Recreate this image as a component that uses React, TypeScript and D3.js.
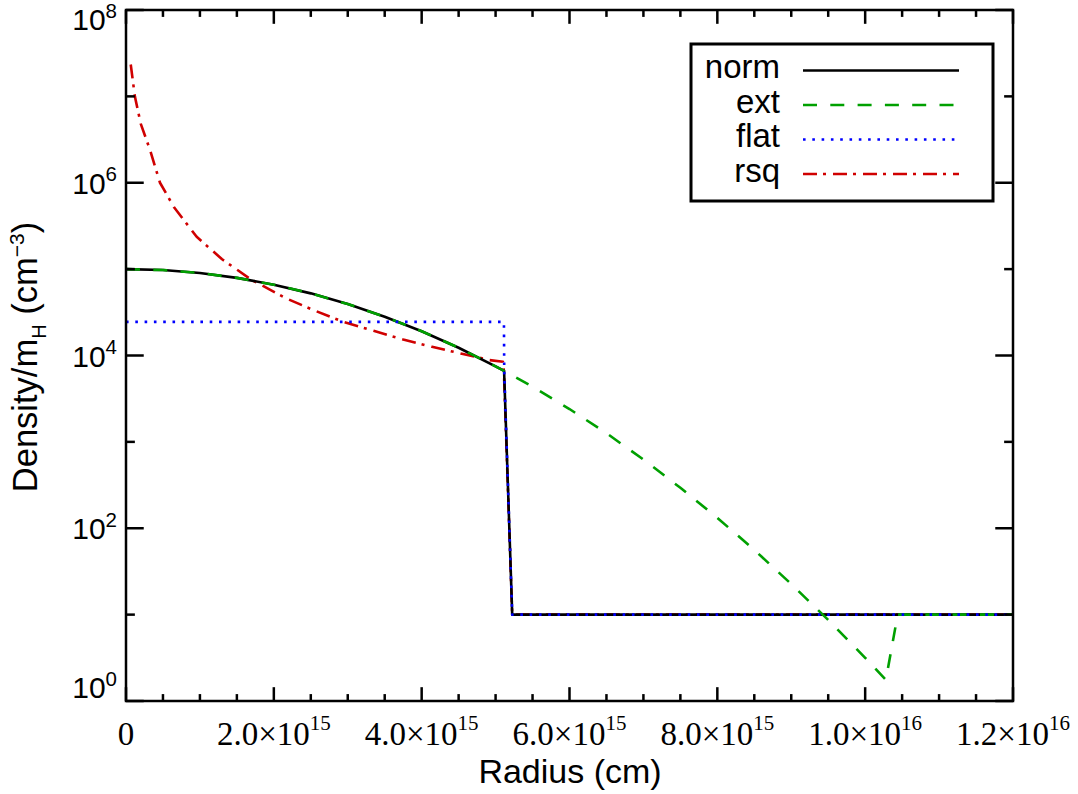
import React from 'react'
import * as d3 from 'd3'

// radius in units of 1e15 cm, density/m_H in cm^-3
const RADIUS_UNIT = 1e15

const normRadius = [0, 0.5, 1.0, 1.5, 2.0, 2.5, 3.0, 3.5, 4.0, 4.5, 5.0, 5.115, 5.225, 12.0]
const normDensity = [1.0e5, 9.75e4, 9.02e4, 7.92e4, 6.61e4, 5.24e4, 3.94e4, 2.81e4, 1.91e4, 1.23e4, 7.5e3, 6.65e3, 10, 10]

const extRadius = [0, 0.5, 1.0, 1.5, 2.0, 2.5, 3.0, 3.5, 4.0, 4.5, 5.0, 5.115, 5.5, 6.0, 6.5, 7.0, 7.5, 8.0, 8.5, 9.0, 9.5, 10.0, 10.28, 10.44, 12.0]
const extDensity = [1.0e5, 9.75e4, 9.02e4, 7.92e4, 6.61e4, 5.24e4, 3.94e4, 2.81e4, 1.91e4, 1.23e4, 7.5e3, 6.65e3, 4.35e3, 2.4e3, 1.26e3, 624, 294, 132, 56.1, 22.6, 8.69, 3.16, 1.76, 10, 10]

const flatRadius = [0, 5.113, 5.117, 5.225, 12.0]
const flatDensity = [2.45e4, 2.45e4, 6.6e3, 10, 10]

const rsqRadius = [0.064, 0.12, 0.2, 0.325, 0.46, 0.65, 0.956, 1.3, 1.7, 2.17, 2.56, 2.94, 3.35, 3.75, 4.14, 4.56, 4.92, 5.10, 5.112, 5.225, 12.0]
const rsqDensity = [2.34e7, 1.0e7, 4.8e6, 2.4e6, 1.0e6, 5.2e5, 2.37e5, 1.3e5, 7.5e4, 4.57e4, 3.29e4, 2.45e4, 1.93e4, 1.53e4, 1.26e4, 1.04e4, 8.85e3, 8.45e3, 6.7e3, 10, 10]

const xMajorTicks = [0, 2e15, 4e15, 6e15, 8e15, 1e16, 1.2e16]
const xTickMantissa = ['0', '2.0', '4.0', '6.0', '8.0', '1.0', '1.2']
const xTickExponent = ['', '15', '15', '15', '15', '16', '16']
const yMajorTicks = [1, 1e2, 1e4, 1e6, 1e8]
const yTickExponent = ['0', '2', '4', '6', '8']
const yMinorTicks = [10, 1e3, 1e5, 1e7]

const legendNames = ['norm', 'ext', 'flat', 'rsq']

const series = [
  { name: 'rsq', r: rsqRadius, n: rsqDensity, color: '#d00000', dash: '14 6 3 7' },
  { name: 'norm', r: normRadius, n: normDensity, color: '#000000', dash: null },
  { name: 'ext', r: extRadius, n: extDensity, color: '#00a000', dash: '14 13.3' },
  { name: 'flat', r: flatRadius, n: flatDensity, color: '#0000ff', dash: '2.6 6.7' },
]

const SANS = '"Liberation Sans", Arial, Helvetica, sans-serif'
const SERIF = '"Liberation Serif", "Times New Roman", serif'

export default function App() {
  const width = 1078
  const height = 794
  const left = 126, right = 1013, top = 10, bottom = 701

  const x = d3.scaleLinear().domain([0, 1.2e16]).range([left, right])
  const y = d3.scaleLog().domain([1, 1e8]).range([bottom, top])
  const xMinor = x.ticks(24).filter(t => !xMajorTicks.includes(t))

  const line = d3.line<[number, number]>()
    .x(d => x(d[0] * RADIUS_UNIT))
    .y(d => y(d[1]))

  const xTickLen = 0.02 * (bottom - top)
  const yTickLen = 0.02 * (right - left)
  const axisStroke = { stroke: '#000', strokeWidth: 2.5 }

  // end labels are pulled inside the frame like the original plot
  const yLabelBase = (t: number) => {
    const p = y(t)
    if (p - 11 < top) return top + 20
    if (p + 11 > bottom) return bottom - 3
    return p + 11
  }

  const legendX = 691, legendY = 44
  const rowH = 34.5

  return <svg width={width} height={height}
              style={{ position: 'absolute', left: 0, top: 0, background: '#fff' }}>
    <rect width={width} height={height} fill="#fff" />
    <defs>
      <clipPath id="plot">
        <rect x={left} y={top} width={right - left} height={bottom - top} />
      </clipPath>
    </defs>

    <g clipPath="url(#plot)" fill="none">
      {series.map(s => {
        const pts = s.r.map((r, i) => [r, s.n[i]] as [number, number])
        return <path key={s.name} d={line(pts) || ''} stroke={s.color} strokeWidth={2.6}
                     strokeDasharray={s.dash || undefined} strokeLinejoin="round" />
      })}
    </g>

    {/* frame */}
    <rect x={left} y={top} width={right - left} height={bottom - top} fill="none" {...axisStroke} />

    {/* x ticks, bottom and top */}
    {xMajorTicks.map(t => <g key={'xM' + t}>
      <line x1={x(t)} x2={x(t)} y1={bottom} y2={bottom - xTickLen} {...axisStroke} />
      <line x1={x(t)} x2={x(t)} y1={top} y2={top + xTickLen} {...axisStroke} />
    </g>)}
    {xMinor.map(t => <g key={'xm' + t}>
      <line x1={x(t)} x2={x(t)} y1={bottom} y2={bottom - xTickLen / 2} {...axisStroke} />
      <line x1={x(t)} x2={x(t)} y1={top} y2={top + xTickLen / 2} {...axisStroke} />
    </g>)}

    {/* y ticks, left and right */}
    {yMajorTicks.map(t => <g key={'yM' + t}>
      <line x1={left} x2={left + yTickLen} y1={y(t)} y2={y(t)} {...axisStroke} />
      <line x1={right} x2={right - yTickLen} y1={y(t)} y2={y(t)} {...axisStroke} />
    </g>)}
    {yMinorTicks.map(t => <g key={'ym' + t}>
      <line x1={left} x2={left + yTickLen / 2} y1={y(t)} y2={y(t)} {...axisStroke} />
      <line x1={right} x2={right - yTickLen / 2} y1={y(t)} y2={y(t)} {...axisStroke} />
    </g>)}

    {/* x tick labels */}
    {xMajorTicks.map((t, i) =>
      <text key={'xl' + t} x={x(t)} y={745} textAnchor="middle" fontFamily={SERIF} fontSize={33}>
        {xTickMantissa[i] === '0' ? '0' : xTickMantissa[i] + '\u00d710'}
        {xTickExponent[i] && <tspan dy={-15} fontSize={21}>{xTickExponent[i]}</tspan>}
      </text>)}

    {/* y tick labels */}
    {yMajorTicks.map((t, i) =>
      <text key={'yl' + t} x={117} y={yLabelBase(t)} textAnchor="end" fontFamily={SANS} fontSize={30}>
        10<tspan dy={-12.5} fontSize={20.5}>{yTickExponent[i]}</tspan>
      </text>)}

    {/* axis titles */}
    <text x={570} y={783} textAnchor="middle" fontFamily={SANS} fontSize={34}>Radius (cm)</text>
    <text transform="translate(37,357) rotate(-90)" textAnchor="middle" fontFamily={SANS} fontSize={34.5}>
      Density/m<tspan dy={9} fontSize={20}>H</tspan><tspan dy={-9}>{'\u00a0(cm'}</tspan>
      <tspan dy={-13} fontSize={21}>{'\u22123'}</tspan><tspan dy={13}>)</tspan>
    </text>

    {/* legend */}
    <rect x={legendX} y={legendY} width={302} height={157} fill="#fff" stroke="#000" strokeWidth={3} />
    {legendNames.map((name, i) => {
      const s = series.find(d => d.name === name)!
      const base = 78 + i * rowH
      return <g key={'lg' + name}>
        <text x={780} y={base} textAnchor="end" fontFamily={SANS} fontSize={33}>{name}</text>
        <line x1={803} x2={959} y1={base - 7.5} y2={base - 7.5} stroke={s.color} strokeWidth={2.6}
              strokeDasharray={s.dash || undefined} />
      </g>
    })}
  </svg>
}
